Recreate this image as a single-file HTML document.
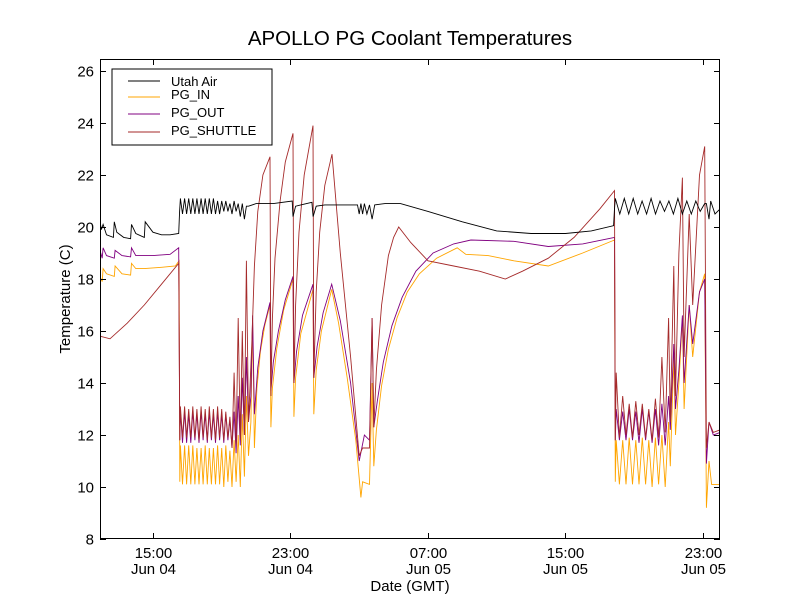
<!DOCTYPE html>
<html><head><meta charset="utf-8"><style>
html,body{margin:0;padding:0;background:#fff;}
svg{display:block;font-family:"Liberation Sans","DejaVu Sans",sans-serif;}
</style></head><body>
<svg id="chart" width="800" height="600" viewBox="0 0 800 600">
<rect x="0" y="0" width="800" height="600" fill="#fff"/>
<text x="410" y="45" font-size="20.5" text-anchor="middle">APOLLO PG Coolant Temperatures</text>
<g id="plot"></g>
<g id="axes"></g>
<text x="410" y="591" font-size="15" text-anchor="middle">Date (GMT)</text>
<text x="70" y="299" font-size="15" text-anchor="middle" transform="rotate(-90 70 299)">Temperature (C)</text>
<g>
<rect x="112" y="69" width="160" height="76" fill="#fff" stroke="#000" stroke-width="1"/>
<g><line x1="128" x2="160" y1="81" y2="81" stroke="#000"/><text x="171" y="86" font-size="13">Utah Air</text></g>
<g><line x1="128" x2="160" y1="97" y2="97" stroke="#ffa500"/><text x="171" y="99" font-size="13">PG_IN</text></g>
<g><line x1="128" x2="160" y1="114" y2="114" stroke="#800080"/><text x="171" y="117" font-size="13">PG_OUT</text></g>
<g><line x1="128" x2="160" y1="132" y2="132" stroke="#a52a2a"/><text x="171" y="135" font-size="13">PG_SHUTTLE</text></g>
</g>
</svg>
<script>
// hours since Jun 04 00:00 GMT
const xTickHours = [15, 23, 31, 39, 47];
const xTickTimes = ["15:00", "23:00", "07:00", "15:00", "23:00"];
const xTickDays = ["Jun 04", "Jun 04", "Jun 05", "Jun 05", "Jun 05"];
const yTicks = [8, 10, 12, 14, 16, 18, 20, 22, 24, 26];
const oscATimes = [16.6,16.72,16.84,16.96,17.08,17.2,17.32,17.44,17.56,17.68,17.8,17.92,18.04,18.16,18.28,18.4,18.52,18.64,18.76,18.88,19.0,19.12,19.24,19.36,19.48,19.6,19.72,19.84,19.96,20.08,20.2,20.32,20.44,20.56];
const oscBTimes = [41.95,42.14,42.33,42.52,42.71,42.9,43.09,43.28,43.47,43.66,43.85,44.04,44.23,44.42,44.61,44.8];
const airOscBTimes = [41.9,42.16,42.42,42.68,42.94,43.2,43.46,43.72,43.98,44.24,44.5,44.76,45.02,45.28,45.54,45.8,46.06,46.32,46.58,46.84,47.1];

const airStart = [[11.92,20.2],[12.0,19.9],[12.1,20.1],[12.3,19.7],[12.7,19.6],[12.75,20.2],[12.9,19.8],[13.3,19.6],[13.7,19.55],[13.75,20.1],[14.0,19.75],[14.5,19.6],[14.55,20.2],[15.0,19.8],[15.5,19.7],[16.0,19.7],[16.5,19.75],[16.55,20.6]];
const airOscA = [21.1,20.5,21.1,20.5,21.1,20.5,21.1,20.5,21.1,20.5,21.1,20.5,21.1,20.5,21.1,20.5,21.1,20.5,21.0,20.5,21.0,20.6,21.0,20.6,20.9,20.5,21.0,20.6,20.9,20.4,20.9,20.3,20.8,20.8];
const airMid = [[21.0,20.9],[22.0,20.9],[23.1,21.0],[23.15,20.4],[23.3,20.8],[23.6,20.85],[24.25,20.95],[24.32,20.4],[24.5,20.8],[25,20.85],[26,20.85],[26.9,20.85],[27.0,20.5],[27.1,20.9],[27.2,20.5],[27.3,20.9],[27.45,20.5],[27.6,20.85],[27.75,20.3],[27.9,20.85],[28.5,20.9],[29.4,20.9],[31,20.6],[33,20.2],[35,19.85],[37,19.75],[39,19.75],[40.5,19.85],[41.8,20.05],[41.85,20.7]];
const airOscB = [21.1,20.5,21.1,20.5,21.1,20.5,21.0,20.5,21.1,20.5,21.0,20.6,21.0,20.5,21.1,20.5,21.0,20.5,21.0,20.6,20.9];
const airEnd = [[47.2,20.9],[47.35,20.3],[47.45,21.0],[47.7,20.5],[48,20.7]];

const inStart = [[11.92,18.1],[12.05,17.9],[12.1,18.4],[12.3,18.2],[12.75,18.1],[12.8,18.5],[13.2,18.2],[13.7,18.15],[13.75,18.6],[14.0,18.4],[14.5,18.4],[15.5,18.45],[16.3,18.5],[16.52,18.7],[16.56,10.2]];
const inOscA = [11.6,10.1,11.6,10.1,11.6,10.1,11.6,10.1,11.5,10.1,11.5,10.1,11.6,10.1,11.5,10.1,11.5,10.1,11.6,10.1,11.5,10.0,11.6,10.2,11.4,10.0,11.8,10.2,12.0,10.0,12.8,10.4,13.5,11.2];
const inMid = [[20.7,12.5],[20.8,16.5],[20.9,11.5],[21.05,13.8],[21.25,15.2],[21.5,16.2],[21.81,17.0],[21.86,12.3],[21.95,13.8],[22.2,15.3],[22.6,16.8],[23.15,18.0],[23.2,12.7],[23.3,14.2],[23.6,15.9],[24.31,17.6],[24.36,12.8],[24.5,14.5],[24.8,16.0],[25.4,17.6],[25.8,16.3],[26.3,14.2],[26.8,11.8],[27.1,9.6],[27.2,10.2],[27.6,10.1],[27.75,14.0],[27.85,10.8],[28.0,12.2],[28.3,13.9],[28.7,15.3],[29.2,16.5],[29.8,17.5],[30.5,18.2],[31.5,18.8],[32.7,19.2],[33.2,18.95],[34.5,18.9],[36,18.7],[38,18.5],[40,19.0],[41.85,19.5],[41.9,10.2]];
const inOscB = [11.8,10.1,11.8,10.1,11.9,10.1,11.8,10.1,11.9,10.1,11.8,10.0,11.9,10.1,12.0,10.0];
const inEnd = [[45.0,12.5],[45.1,10.8],[45.3,15.0],[45.4,12.0],[45.6,14.0],[45.8,16.5],[45.9,13.0],[46.2,17.0],[46.4,15.0],[46.8,17.5],[47.1,18.2],[47.2,9.2],[47.35,11.0],[47.5,10.1],[48,10.1]];

const outStart = [[11.92,19.1],[12.05,18.8],[12.1,19.2],[12.3,18.9],[12.75,18.8],[12.8,19.1],[13.2,18.9],[13.7,18.85],[13.75,19.2],[14.0,18.9],[15.0,18.9],[16.0,18.95],[16.5,19.2],[16.56,11.8]];
const outOscA = [12.9,11.7,12.9,11.7,12.8,11.7,12.9,11.8,12.8,11.7,12.9,11.8,12.8,11.7,12.9,11.8,12.8,11.7,12.9,11.8,12.8,11.7,12.8,11.8,12.6,11.5,12.9,11.3,13.5,11.6,14.2,12.0,15.0,12.5];
const outMid = [[20.7,13.5],[20.8,16.6],[20.9,12.8],[21.1,14.6],[21.4,16.0],[21.81,17.1],[21.86,13.7],[22.0,14.8],[22.3,16.0],[22.7,17.2],[23.15,18.1],[23.2,14.0],[23.35,15.2],[23.7,16.6],[24.31,17.8],[24.36,14.2],[24.55,15.4],[24.9,16.7],[25.4,17.8],[25.9,16.4],[26.5,14.0],[27.0,11.0],[27.3,12.0],[27.6,11.8],[27.75,16.5],[27.85,12.3],[28.05,13.3],[28.4,14.8],[28.9,16.2],[29.5,17.3],[30.3,18.3],[31.3,19.0],[32.5,19.35],[33.5,19.5],[36,19.45],[38,19.25],[40,19.35],[41.85,19.6],[41.9,11.8]];
const outOscB = [13.0,11.8,12.9,11.8,13.0,11.8,12.9,11.7,13.0,11.8,12.9,11.7,13.0,11.6,13.2,11.6];
const outEnd = [[45.0,13.5],[45.1,12.2],[45.3,15.5],[45.4,13.0],[45.6,14.5],[45.8,16.6],[45.9,14.0],[46.2,17.0],[46.4,15.5],[46.8,17.5],[47.1,18.0],[47.2,10.9],[47.35,12.5],[47.6,12.0],[48,12.1]];

const shStart = [[11.92,15.8],[12.5,15.7],[13.5,16.3],[14.5,17.0],[15.5,17.8],[16.5,18.6],[16.56,11.8]];
const shOscA = [13.1,11.9,13.1,11.9,13.0,11.9,13.1,11.9,13.0,11.8,13.1,11.9,13.0,11.8,13.1,11.9,13.0,11.8,13.1,11.9,13.0,11.8,12.9,11.9,12.7,11.5,14.4,11.6,16.5,11.8,16.0,12.0,18.7,12.5];
const shMid = [[20.75,15.5],[20.9,18.5],[21.1,20.6],[21.4,22.0],[21.81,22.7],[21.86,13.5],[21.95,16.5],[22.1,18.8],[22.4,21.0],[22.7,22.5],[23.15,23.6],[23.2,14.0],[23.3,17.0],[23.5,19.8],[23.8,22.0],[24.31,23.9],[24.36,14.2],[24.5,17.5],[24.7,19.8],[25.0,21.6],[25.42,22.8],[25.9,19.0],[26.5,15.0],[27.0,11.2],[27.2,11.5],[27.6,11.5],[27.75,16.5],[27.85,12.3],[28.0,14.5],[28.3,17.0],[28.7,18.9],[29.0,19.6],[29.3,20.0],[30.0,19.4],[31.0,18.7],[32.5,18.5],[34,18.3],[35.5,18.0],[36.5,18.3],[38,18.8],[39.5,19.6],[41,20.7],[41.85,21.4],[41.9,11.8]];
const shOscB = [14.4,11.9,13.5,12.0,13.2,11.9,13.3,12.0,13.2,11.9,13.0,11.8,13.4,11.9,15.0,12.1];
const shEnd = [[45.0,16.5],[45.1,12.5],[45.3,18.5],[45.4,13.5],[45.6,19.0],[45.8,21.9],[45.9,15.0],[46.2,20.5],[46.4,17.0],[46.8,22.0],[47.1,23.1],[47.2,11.5],[47.35,12.5],[47.6,12.1],[48,12.2]];

const X0 = 100, X1 = 720, Y0 = 59, Y1 = 539;
const HMIN = 11.92, HMAX = 47.99, VMIN = 8, VMAX = 8 + 480 / 26;
function xs(h){ return X0 + (h - HMIN) / (HMAX - HMIN) * (X1 - X0); }
function ys(v){ return Y1 - (v - VMIN) / (VMAX - VMIN) * (Y1 - Y0); }
function zip(t, v){ return t.map((h, i) => [h, v[i]]); }
function build(parts){ return [].concat(...parts); }

const NS = "http://www.w3.org/2000/svg";
const plot = document.getElementById('plot');
const axes = document.getElementById('axes');
const clip = document.createElementNS(NS, 'clipPath');
clip.setAttribute('id', 'pc');
const cr = document.createElementNS(NS, 'rect');
cr.setAttribute('x', X0); cr.setAttribute('y', Y0); cr.setAttribute('width', X1 - X0); cr.setAttribute('height', Y1 - Y0);
clip.appendChild(cr); plot.appendChild(clip);
plot.setAttribute('clip-path', 'url(#pc)');

function drawSeries(pts, color, name){
  const p = document.createElementNS(NS, 'path');
  p.setAttribute('d', pts.map((q, i) => (i ? 'L' : 'M') + xs(q[0]).toFixed(1) + ' ' + ys(q[1]).toFixed(1)).join(''));
  p.setAttribute('fill', 'none'); p.setAttribute('stroke', color); p.setAttribute('stroke-width', '0.9');
  
  
  plot.appendChild(p);
}
drawSeries(build([inStart, zip(oscATimes, inOscA), inMid, zip(oscBTimes, inOscB), inEnd]), '#ffa500', 'pg-in-line');
drawSeries(build([outStart, zip(oscATimes, outOscA), outMid, zip(oscBTimes, outOscB), outEnd]), '#800080', 'pg-out-line');
drawSeries(build([shStart, zip(oscATimes, shOscA), shMid, zip(oscBTimes, shOscB), shEnd]), '#a52a2a', 'pg-shuttle-line');
drawSeries(build([airStart, zip(oscATimes, airOscA), airMid, zip(airOscBTimes, airOscB), airEnd]), '#000000', 'utah-air-line');

function ln(x1, y1, x2, y2){
  const l = document.createElementNS(NS, 'line');
  l.setAttribute('x1', x1); l.setAttribute('y1', y1); l.setAttribute('x2', x2); l.setAttribute('y2', y2);
  l.setAttribute('stroke', '#000'); l.setAttribute('stroke-width', '1');
  axes.appendChild(l); return l;
}
function txt(x, y, s, anchor, name){
  const t = document.createElementNS(NS, 'text');
  t.setAttribute('x', x); t.setAttribute('y', y); t.setAttribute('font-size', '15'); t.setAttribute('text-anchor', anchor);
  t.textContent = s;
  
  
  axes.appendChild(t);
}
const frame = document.createElementNS(NS, 'rect');
frame.setAttribute('x', X0 + 0.5); frame.setAttribute('y', Y0 + 0.5); frame.setAttribute('width', X1 - X0 - 1); frame.setAttribute('height', Y1 - Y0 - 1);
frame.setAttribute('fill', 'none'); frame.setAttribute('stroke', '#000');


axes.appendChild(frame);
yTicks.forEach(v => {
  const y = Math.round(ys(v)) + 0.5;
  ln(X0, y, X0 + 6, y); ln(X1 - 6, y, X1, y);
  txt(X0 - 6, y + 5, String(v), 'end', 'y-tick-label');
});
xTickHours.forEach((h, i) => {
  const x = Math.round(xs(h)) + 0.5;
  ln(x, Y1, x, Y1 - 6); ln(x, Y0, x, Y0 + 6);
  txt(x, Y1 + 19, xTickTimes[i], 'middle', 'x-tick-time-label');
  txt(x, Y1 + 35, xTickDays[i], 'middle', 'x-tick-day-label');
});
</script>
</body></html>
